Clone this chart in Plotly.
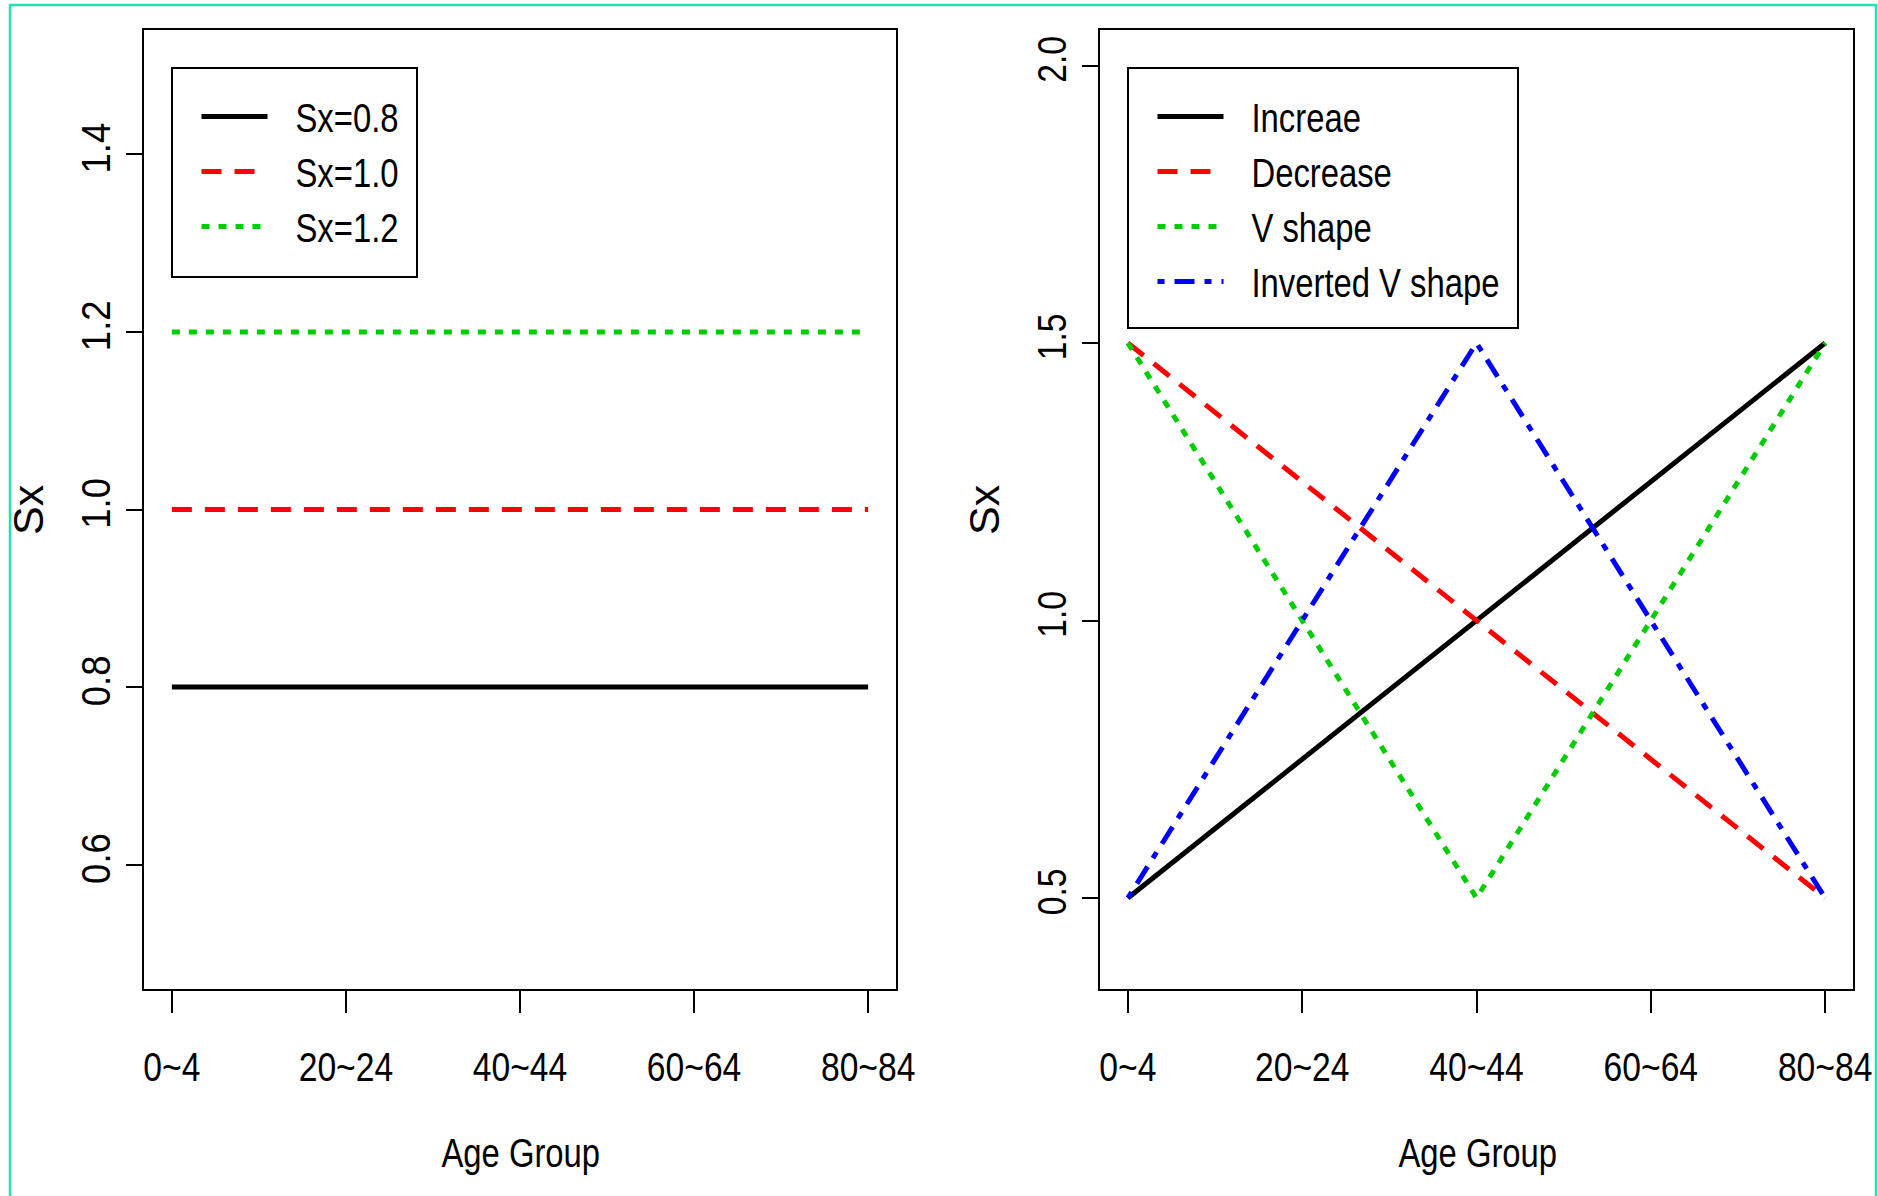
import plotly.graph_objects as go

# ---- data -------------------------------------------------------------
age_groups = ["0~4", "5~9", "10~14", "15~19", "20~24", "25~29", "30~34",
              "35~39", "40~44", "45~49", "50~54", "55~59", "60~64",
              "65~69", "70~74", "75~79", "80~84"]
age_pos = list(range(1, len(age_groups) + 1))
tick_pos = [1, 5, 9, 13, 17]
tick_text = ["0~4", "20~24", "40~44", "60~64", "80~84"]

# constant scenarios
sx_08 = [0.8, 0.8, 0.8, 0.8, 0.8, 0.8, 0.8, 0.8, 0.8, 0.8, 0.8, 0.8, 0.8, 0.8, 0.8, 0.8, 0.8]
sx_10 = [1.0, 1.0, 1.0, 1.0, 1.0, 1.0, 1.0, 1.0, 1.0, 1.0, 1.0, 1.0, 1.0, 1.0, 1.0, 1.0, 1.0]
sx_12 = [1.2, 1.2, 1.2, 1.2, 1.2, 1.2, 1.2, 1.2, 1.2, 1.2, 1.2, 1.2, 1.2, 1.2, 1.2, 1.2, 1.2]

# age-varying scenarios
sx_increase = [0.5, 0.5625, 0.625, 0.6875, 0.75, 0.8125, 0.875, 0.9375, 1.0,
               1.0625, 1.125, 1.1875, 1.25, 1.3125, 1.375, 1.4375, 1.5]
sx_decrease = [1.5, 1.4375, 1.375, 1.3125, 1.25, 1.1875, 1.125, 1.0625, 1.0,
               0.9375, 0.875, 0.8125, 0.75, 0.6875, 0.625, 0.5625, 0.5]
sx_vshape = [1.5, 1.375, 1.25, 1.125, 1.0, 0.875, 0.75, 0.625, 0.5,
             0.625, 0.75, 0.875, 1.0, 1.125, 1.25, 1.375, 1.5]
sx_inv_v = [0.5, 0.625, 0.75, 0.875, 1.0, 1.125, 1.25, 1.375, 1.5,
            1.375, 1.25, 1.125, 1.0, 0.875, 0.75, 0.625, 0.5]

left_ticks = [0.6, 0.8, 1.0, 1.2, 1.4]
right_ticks = [0.5, 1.0, 1.5, 2.0]

# ---- style ------------------------------------------------------------
W, H = 1878, 1196
FONT = "Liberation Sans, Arial, Helvetica, sans-serif"
TICK_FS = 41
LEG_FS = 40
TITLE_FS = 40
LW = 5
SOLID = "solid"
DASH = "20px,13px"
DOT = "8px,9px"
DOTDASH = "7px,10px,20px,10px"
# en space + thin space: wider gap between a legend key and its label
KEY_GAP = "\u2002\u2009"


def px_x(p):
    return p / W


def px_y(p):
    return 1 - p / H


fig = go.Figure()

left_series = [
    ("Sx=0.8", sx_08, "black", SOLID),
    ("Sx=1.0", sx_10, "#FF0000", DASH),
    ("Sx=1.2", sx_12, "#00CD00", DOT),
]
for name, vals, col, dash in left_series:
    fig.add_trace(go.Scatter(
        x=age_pos, y=vals, mode="lines", name=KEY_GAP + name,
        line=dict(color=col, width=LW, dash=dash),
        xaxis="x", yaxis="y", legend="legend",
    ))

right_series = [
    ("Increae", sx_increase, "black", SOLID),
    ("Decrease", sx_decrease, "#FF0000", DASH),
    ("V shape", sx_vshape, "#00CD00", DOT),
    ("Inverted V shape", sx_inv_v, "#0000FF", DOTDASH),
]
for name, vals, col, dash in right_series:
    fig.add_trace(go.Scatter(
        x=age_pos, y=vals, mode="lines", name=KEY_GAP + name,
        line=dict(color=col, width=LW, dash=dash),
        xaxis="x2", yaxis="y2", legend="legend2",
    ))

axis_common = dict(
    showline=True, mirror=True, linecolor="black", linewidth=2,
    showgrid=False, zeroline=False, ticks="outside", tickcolor="black",
    tickwidth=2, automargin=False, ticklabeloverflow="allow",
    tickfont=dict(family=FONT, size=TICK_FS, color="black"),
)
xaxis_common = dict(range=[0.36, 17.64], tickvals=tick_pos, ticktext=tick_text,
                    ticklen=22, ticklabelstandoff=19, **axis_common)

x_dom_left = [px_x(144), px_x(896)]
x_dom_right = [px_x(1100), px_x(1853)]
y_dom = [px_y(989), px_y(30)]

legend_common = dict(xanchor="left", yanchor="top", bgcolor="rgba(0,0,0,0)",
                     borderwidth=0, itemwidth=66,
                     font=dict(family=FONT, size=LEG_FS, color="black"))

fig.update_layout(
    width=W, height=H,
    margin=dict(l=0, r=0, t=0, b=0),
    paper_bgcolor="white", plot_bgcolor="white",
    font=dict(family=FONT, size=TICK_FS, color="black"),
    xaxis=dict(domain=x_dom_left, anchor="y", **xaxis_common),
    yaxis=dict(domain=y_dom, range=[0.46, 1.54], tickvals=left_ticks,
               ticktext=[f"{v:.1f}" for v in left_ticks], tickangle=-90,
               ticklen=16, anchor="x", **axis_common),
    xaxis2=dict(domain=x_dom_right, anchor="y2", **xaxis_common),
    yaxis2=dict(domain=y_dom, range=[0.336, 2.064], tickvals=right_ticks,
                ticktext=[f"{v:.1f}" for v in right_ticks], tickangle=-90,
                ticklen=16, anchor="x2", **axis_common),
    legend=dict(x=px_x(196.5), y=px_y(84), **legend_common),
    legend2=dict(x=px_x(1152.5), y=px_y(84), **legend_common),
    showlegend=True,
)

# legend frames
fig.add_shape(type="rect", xref="paper", yref="paper",
              x0=px_x(172), x1=px_x(417), y0=px_y(277), y1=px_y(68),
              line=dict(color="black", width=2), fillcolor="rgba(0,0,0,0)")
fig.add_shape(type="rect", xref="paper", yref="paper",
              x0=px_x(1128), x1=px_x(1518), y0=px_y(328), y1=px_y(68),
              line=dict(color="black", width=2), fillcolor="rgba(0,0,0,0)")

# outer border of the figure
fig.add_shape(type="rect", xref="paper", yref="paper",
              x0=px_x(10), x1=px_x(1876), y0=-0.02, y1=px_y(5),
              line=dict(color="#20E3B2", width=2.5), fillcolor="rgba(0,0,0,0)")

# axis titles
for xc in (28, 984):
    fig.add_annotation(text="Sx", xref="paper", yref="paper",
                       x=px_x(xc), y=px_y(510), xanchor="center", yanchor="middle",
                       showarrow=False, textangle=-90,
                       font=dict(family=FONT, size=43, color="black"))
for xc in (520, 1477):
    fig.add_annotation(text="Age Group", xref="paper", yref="paper",
                       x=px_x(xc), y=px_y(1153), xanchor="center", yanchor="middle",
                       showarrow=False,
                       font=dict(family=FONT, size=TITLE_FS, color="black"))

# narrow lettering: compress glyphs along the reading direction
narrow_js = """
var gd = document.getElementById('{plot_id}');
function narrowText() {
    var texts = gd.querySelectorAll('text');
    for (var i = 0; i < texts.length; i++) {
        var t = texts[i];
        try {
            var s = (t.textContent || '').trim();
            if (!s || s === 'Sx') { continue; }
            if (t.getAttribute('textLength')) { continue; }
            var f = t.closest('.ytick') ? 0.89 : 0.82;
            var w = t.getComputedTextLength();
            if (w > 0) {
                t.setAttribute('lengthAdjust', 'spacingAndGlyphs');
                t.setAttribute('textLength', (w * f).toFixed(2));
            }
        } catch (e) { }
    }
}
narrowText();
setTimeout(narrowText, 0);
setTimeout(narrowText, 100);
"""

fig.write_html("out.html", post_script=narrow_js)
